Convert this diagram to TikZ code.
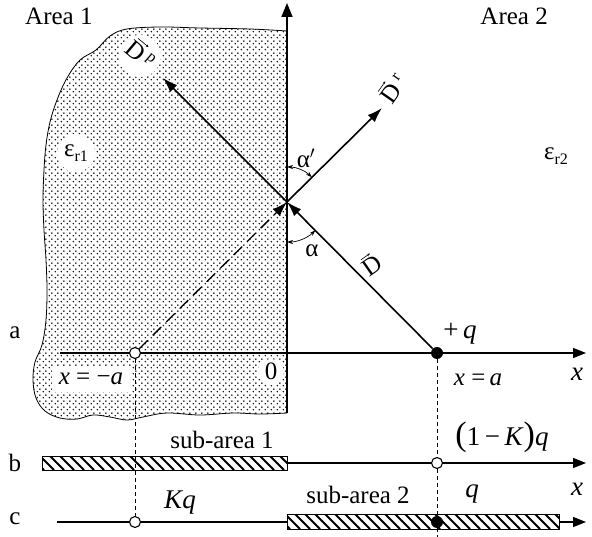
\documentclass[tikz,border=0pt]{standalone}
\usepackage{fontspec}
\setmainfont{Liberation Serif}
\usetikzlibrary{arrows.meta,patterns.meta,calc}
\tikzdeclarepattern{
  name=densedots,
  type=uncolored,
  bounding box={(0,0) and (6pt,6pt)},
  tile size={(6pt,6pt)},
  code={
    \fill (1.5pt,1.5pt) circle (0.9pt);
    \fill (4.5pt,4.5pt) circle (0.9pt);
  }
}
\newcommand\subr[1]{\raisebox{-5pt}{\fontsize{16}{16}\selectfont #1}}
\newcommand\supr[1]{\raisebox{9pt}{\fontsize{16}{16}\selectfont #1}}
\begin{document}
\begin{tikzpicture}[x=1pt,y=-1pt,
  axisln/.style={line width=1.2pt, -{Triangle[length=13pt,width=10pt]}},
  vecln/.style={line width=1.6pt, -{Latex[length=15pt,width=10pt]}},
  angln/.style={line width=0.7pt, {Stealth[length=6pt,width=4pt]}-{Stealth[length=6pt,width=4pt]}},
  accentln/.style={line width=0.6pt, -{Stealth[length=3pt,width=2.5pt]}},
  guide/.style={line width=0.7pt, dash pattern=on 4pt off 3pt},
  rayln/.style={line width=1.3pt, dash pattern=on 12pt off 7pt},
  opench/.style={circle, draw, line width=1.1pt, fill=white, minimum size=11pt, inner sep=0pt},
  fullch/.style={circle, fill=black, minimum size=12pt, inner sep=0pt},
  txt/.style={inner sep=0pt, font=\fontsize{25}{28}\selectfont},
  vtxt/.style={inner xsep=0pt, inner ysep=3pt, font=\fontsize{25}{28}\selectfont},
  bigtxt/.style={inner sep=0pt, font=\fontsize{27}{30}\selectfont},
  hatchbox/.style={draw, line width=1pt}
]
\useasboundingbox (0,0) rectangle (592,537);

% ---------- shaded dielectric (area 1)
\path[pattern={densedots}, pattern color=black]
  plot[smooth, tension=0.6] coordinates {(287,31) (250,29) (200,28) (160,27) (127,29) (110,36) (96,50) (80,60) (67,78) (57,100) (50,122) (46,145) (44,170) (43,200) (44,230) (46,260) (47,290) (46,320) (42,345) (35,362) (33,380) (36,398) (45,411) (60,418) (77,419) (93,415) (110,417) (127,420) (143,417) (167,413) (200,415) (233,413) (260,414) (287,413)} -- cycle;
% white patches behind labels
\node[circle, fill=white, minimum size=42pt, inner sep=0pt] at (140,56) {};
\node[circle, fill=white, minimum size=38pt, inner sep=0pt] at (76,153) {};
\node[circle, fill=white, minimum size=26pt, inner sep=0pt] at (271,372) {};
\fill[white] (52,366) rectangle (132,392);
\draw[line width=0.8pt]
  plot[smooth, tension=0.6] coordinates {(287,31) (250,29) (200,28) (160,27) (127,29) (110,36) (96,50) (80,60) (67,78) (57,100) (50,122) (46,145) (44,170) (43,200) (44,230) (46,260) (47,290) (46,320) (42,345) (35,362) (33,380) (36,398) (45,411) (60,418) (77,419) (93,415) (110,417) (127,420) (143,417) (167,413) (200,415) (233,413) (260,414) (287,413)};

% ---------- coordinates
\coordinate (vb) at (287,413);
\coordinate (vt) at (287,3);
\coordinate (P) at (287,202);
\coordinate (Dr) at (382,108);
\coordinate (Dp) at (163,78);
\coordinate (a0) at (60,353);
\coordinate (a1) at (586,353);
\coordinate (b0) at (287,463);
\coordinate (b1) at (586,463);
\coordinate (c0) at (57,522);
\coordinate (c1) at (559,522);
\coordinate (c2) at (586,522);
\coordinate (qbot) at (437,537);

% ---------- hatched bars
\begin{scope}
  \clip (42,456) rectangle (287,470);
  \foreach \i in {30,40,...,300} \draw[line width=2pt] (\i,456) -- (\i+14,470);
\end{scope}
\draw[hatchbox] (42,456) rectangle (287,470);
\begin{scope}
  \clip (287,514) rectangle (559,529);
  \foreach \i in {275,285,...,565} \draw[line width=2pt] (\i,514) -- (\i+15,529);
\end{scope}
\draw[hatchbox] (287,514) rectangle (559,529);

% ---------- axes
\draw[line width=1.6pt, -{Triangle[length=14pt,width=11pt]}] (vb) -- (vt);
\draw[axisln] (a0) -- (a1);
\draw[axisln] (b0) -- (b1);
\draw[line width=1.2pt] (c0) -- (287,522);
\draw[axisln] (c1) -- (c2);

% ---------- charges
\node[fullch] (q) at (437,353) {};
\node[opench] (qi) at (135,353) {};
\node[opench] (qb) at (437,463) {};
\node[opench] (qic) at (135,522) {};
\node[fullch] (qc) at (437,522) {};

% ---------- guides
\draw[guide] (qi) -- (qic);
\draw[guide] (q) -- (qb);
\draw[guide] (qb) -- (qc);
\draw[guide] (qc) -- (qbot);

% ---------- vectors
\draw[rayln, -{Latex[length=15pt,width=10pt]}] (qi) -- (P);
\draw[vecln] (q) -- (P);
\draw[vecln] (P) -- (Dr);
\draw[vecln] (P) -- (Dp);

% ---------- angles
\draw[angln] ($(P)+(0,-35)$) arc[start angle=-90, end angle=-45, radius=35];
\draw[angln] ($(P)+(0,40)$) arc[start angle=90, end angle=45, radius=40];

% ---------- labels
\node[txt, anchor=west] (lA1) at (25,16) {Area 1};
\node[txt, anchor=east] (lA2) at (548,16) {Area 2};
\node[txt] (le1) at (76,153) {ε\subr{r1}};
\node[txt] (le2) at (556,156) {ε\subr{r2}};
\node[txt] (lal1) at (306,158) {α$'$};
\node[txt] (lal) at (312,251) {α};
\node[vtxt, rotate=-40] (lDp) at (140,55) {D\,\supr{p}};
\node[vtxt, rotate=55] (lDr) at (394,89) {D\,\supr{r}};
\node[vtxt, rotate=35] (lDi) at (372,266) {D};
\draw[accentln] ($(lDp.north west)!0.1!(lDp.north east)$) -- ($(lDp.north west)!0.55!(lDp.north east)$);
\draw[accentln] ($(lDr.north west)!0.1!(lDr.north east)$) -- ($(lDr.north west)!0.55!(lDr.north east)$);
\draw[accentln] ($(lDi.north west)!0.2!(lDi.north east)$) -- ($(lDi.north west)!0.8!(lDi.north east)$);
\node[txt] (la) at (15,333) {a};
\node[txt] (lb) at (15,463) {b};
\node[txt] (lc) at (15,519) {c};
\node[bigtxt] (lq) at (460,334) {+\,\textit{q}};
\node[txt] (lxa) at (478,380) {\textit{x} =\,\textit{a}};
\node[bigtxt] (lx1) at (577,374) {\textit{x}};
\node[txt] (lxma) at (91,379) {\textit{x} = −\textit{a}};
\node[txt] (l0) at (271,371) {0};
\node[txt] (lsa1) at (222,440) {sub-area 1};
\node[bigtxt] (l1K) at (502,437) {{\fontsize{34}{34}\selectfont (}1\,−\,\textit{K}{\fontsize{34}{34}\selectfont )}\textit{q}};
\node[bigtxt] (lx2) at (577,489) {\textit{x}};
\node[bigtxt] (lKq) at (180,503) {\textit{Kq}};
\node[txt] (lsa2) at (358,495) {sub-area 2};
\node[bigtxt] (lqc) at (472,494) {\textit{q}};
\end{tikzpicture}
\end{document}
